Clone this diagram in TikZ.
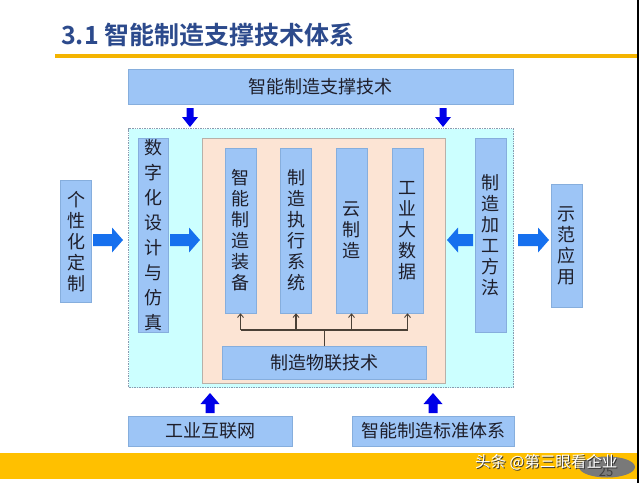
\documentclass[tikz,border=0pt]{standalone}
\usepackage{fontspec}
\newfontfamily\cjk{Noto Sans CJK SC}
\newfontfamily\cjkb{Noto Sans CJK SC Bold}
\usetikzlibrary{arrows.meta}
\definecolor{boxblue}{HTML}{9DC5F6}
\definecolor{boxedge}{HTML}{86AEDD}
\definecolor{cyanbg}{HTML}{CCFFFF}
\definecolor{cyanedge}{HTML}{8A9BB0}
\definecolor{peach}{HTML}{FCE4D4}
\definecolor{peachedge}{HTML}{B8B0A8}
\definecolor{sideblue}{HTML}{1670EE}
\definecolor{deepblue}{HTML}{0000E8}
\definecolor{txt}{HTML}{1E1E2A}
\definecolor{titleblue}{HTML}{2C4A8C}
\definecolor{orangeline}{HTML}{F4B400}
\definecolor{band}{HTML}{FFC000}
\definecolor{linkc}{HTML}{4A4036}
% #1 style, #2 x, #3 y, #4 angle, #5 length, #6 shaft half, #7 head half, #8 head length
\newcommand{\fatarr}[8]{\fill[#1,shift={(#2,#3)},rotate=#4] (0,-#6) -- (#5-#8,-#6) -- (#5-#8,-#7) -- (#5,0) -- (#5-#8,#7) -- (#5-#8,#6) -- (0,#6) -- cycle;}
\begin{document}
\begin{tikzpicture}[x=1pt,y=-1pt,
  box/.style={fill=boxblue,draw=boxedge,line width=0.6pt,inner sep=0pt,text=txt,
    font=\cjk\fontsize{18}{21}\selectfont,align=center},
  link/.style={draw=linkc,line width=1.1pt},
  linkarrow/.style={link,-{Straight Barb[length=3.5pt,width=6pt,line width=0.9pt]}}]
\useasboundingbox (0,0) rectangle (640,483);
\fill[white] (0,0) rectangle (640,483);
% title and rules
\node[anchor=west,inner sep=0pt,text=titleblue,font=\cjkb\fontsize{25}{27}\selectfont] (title) at (61,35) {3.1 智能制造支撑技术体系};
\fill[orangeline] (55,54) rectangle (637,58);
\fill[band] (0,453) rectangle (637,479);
\fill[black] (636.8,0) rectangle (638.6,483);
% containers
\node[fill=cyanbg,draw=cyanedge,densely dotted,line width=0.7pt,minimum width=385pt,minimum height=259pt,inner sep=0pt] (outer) at (321,258) {};
\node[fill=peach,draw=peachedge,line width=0.6pt,minimum width=243.5pt,minimum height=245pt,inner sep=0pt] (inner) at (323.75,260.5) {};
% boxes
\node[box,minimum width=385pt,minimum height=35pt] (top) at (320.5,86.5) {智能制造支撑技术};
\node[box,minimum width=30pt,minimum height=194pt,font=\cjk\fontsize{18}{25}\selectfont] (dsim) at (153,235) {数\\字\\化\\设\\计\\与\\仿\\真};
\node[box,minimum width=31pt,minimum height=165pt] (c1) at (240.5,230.5) {智\\能\\制\\造\\装\\备};
\node[box,minimum width=31pt,minimum height=165pt] (c2) at (296,230.5) {制\\造\\执\\行\\系\\统};
\node[box,minimum width=31pt,minimum height=165pt] (c3) at (351.5,230.5) {云\\制\\造};
\node[box,minimum width=31pt,minimum height=165pt] (c4) at (407.5,230.5) {工\\业\\大\\数\\据};
\node[box,minimum width=204pt,minimum height=33pt] (iot) at (324.5,363) {制造物联技术};
\node[box,minimum width=31pt,minimum height=194pt] (method) at (490.5,235) {制\\造\\加\\工\\方\\法};
\node[box,minimum width=31pt,minimum height=121.5pt] (custom) at (76,241.25) {个\\性\\化\\定\\制};
\node[box,minimum width=31pt,minimum height=123pt] (demo) at (566.5,245.5) {示\\范\\应\\用};
\node[box,minimum width=164pt,minimum height=30pt] (net) at (210,431) {工业互联网};
\node[box,minimum width=162pt,minimum height=30pt] (std) at (433,431) {智能制造标准体系};
% link tree
\coordinate (bus) at (324.5,330);
\draw[link] (iot.north) -- (bus);
\draw[link] (c1.south |- bus) -- (c4.south |- bus);
\foreach \c in {c1,c2,c3,c4} \draw[linkarrow] (\c.south |- bus) -- (\c.south);
% fat side arrows
\fatarr{sideblue}{93}{240}{0}{30}{6}{12.5}{11}
\fatarr{sideblue}{170}{240}{0}{30}{6}{12.5}{11}
\fatarr{sideblue}{473}{240}{180}{26}{6}{12.5}{11}
\fatarr{sideblue}{518}{240}{0}{31}{6}{12.5}{11}
% vertical arrows
\fatarr{deepblue}{190}{108}{-90}{19}{3.5}{8}{10}
\fatarr{deepblue}{443}{108}{-90}{19}{3.5}{8}{10}
\fatarr{deepblue}{210}{413}{90}{20}{4.5}{9.5}{11}
\fatarr{deepblue}{433}{413}{90}{20}{4.5}{9.5}{11}
% page number and watermark
\fill[gray!95!black] (607,467) ellipse [x radius=28pt, y radius=10.5pt];
\node[text=black!75,font=\fontsize{13}{13}\selectfont\cjk,inner sep=0pt] (pnum) at (606,472) {25};
\node[anchor=west,inner sep=0pt,text=black!80,font=\cjk\fontsize{15.5}{16}\selectfont] (wms) at (476,463) {头条 @第三眼看企业};
\node[anchor=west,inner sep=0pt,text=white,font=\cjk\fontsize{15.5}{16}\selectfont] (wm) at (475,462) {头条 @第三眼看企业};
\end{tikzpicture}
\end{document}
